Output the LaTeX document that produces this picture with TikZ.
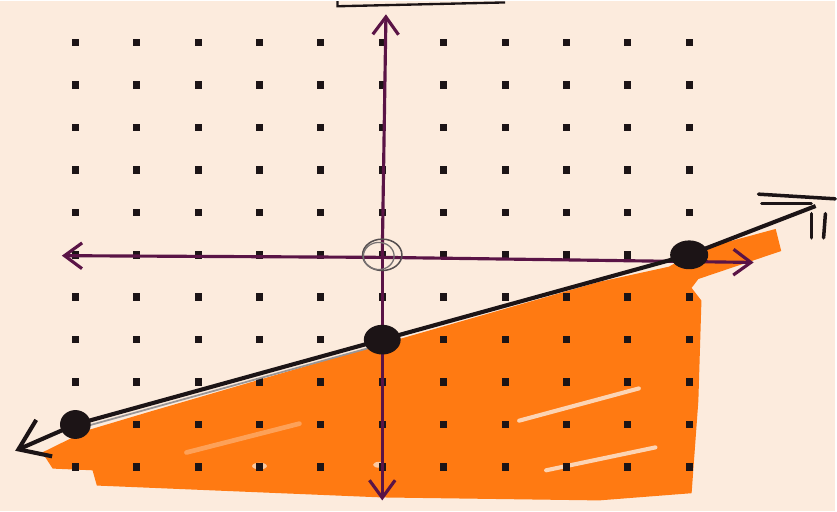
\documentclass[tikz,border=0pt]{standalone}
\usetikzlibrary{arrows.meta}
\definecolor{paper}{HTML}{FCEBDD}
\definecolor{marker}{HTML}{FF7A12}
\definecolor{axisink}{HTML}{5A1446}
\definecolor{ink}{HTML}{1C1416}
\begin{document}
\begin{tikzpicture}[x=1.845cm, y=1.275cm, >={Straight Barb[length=15pt,width=22pt]}]
  % Paper
  \fill[paper] (-6.228,-6.047) rectangle (7.382,5.976);

  % Shaded region (marker)
  \fill[marker] (-5.54,-4.66) -- (-4.81,-4.14) -- (-3.84,-3.72) -- (0,-2.1)
    -- (3.53,-0.64) -- (4.67,-0.28) -- (5.15,0.12) -- (6.41,0.61) -- (6.50,0.09)
    -- (5.15,-0.57) -- (5.04,-0.78) -- (5.20,-1.08) -- (5.15,-3.44) -- (5.04,-5.62)
    -- (3.53,-5.79) -- (0,-5.72) -- (-4.65,-5.44) -- (-4.72,-5.08) -- (-5.37,-5.04) -- cycle;
  % gaps in the marker
  \draw[paper, opacity=0.8, line width=3.5pt, line cap=round] (2.67,-5.08) -- (4.45,-4.54);
  \draw[paper, opacity=0.8, line width=3.5pt, line cap=round] (2.23,-3.91) -- (4.18,-3.15);
  \draw[paper, opacity=0.35, line width=4pt, line cap=round] (-3.19,-4.66) -- (-1.35,-3.98);
  \fill[paper, opacity=0.7] (-2.0,-4.98) ellipse (0.12 and 0.08);
  \fill[paper, opacity=0.7] (-0.05,-4.95) ellipse (0.1 and 0.07);

  % Dot grid
  \foreach \i in {-5,...,5}
    \foreach \j in {-5,...,5}
      \fill[ink] (\i,\j) +(-3pt,-3.2pt) rectangle +(3pt,3.2pt);

  % Axes
  \coordinate (xl) at (-5.22,-0.02);
  \coordinate (xr) at (6.05,-0.18);
  \coordinate (yt) at (0.06,5.67);
  \coordinate (yb) at (0,-5.79);
  \draw[axisink, line width=2.7pt, ->] (0,-0.06) -- (xl);
  \draw[axisink, line width=2.7pt, ->] (0,-0.06) -- (xr);
  \draw[axisink, line width=2.7pt, ->] (0,0) -- (yt);
  \draw[axisink, line width=2.7pt, ->] (0,0) -- (yb);

  % Origin
  \coordinate (O) at (0,0);
  \draw[ink!75, line width=1.3pt] (O) ellipse (0.32 and 0.37);
  \draw[ink!60, line width=1.1pt] ([xshift=-3pt,yshift=-1pt]O) ellipse (0.25 and 0.32);

  % Box edge at the top
  \draw[ink, line width=2pt] (-0.73,5.98) -- (-0.73,5.86) -- (2.0,5.95);

  % Line through the three points
  \coordinate (A) at (-5,-4);
  \coordinate (B) at (0,-2);
  \coordinate (C) at (5,0);
  \coordinate (Lend) at (-5.98,-4.62);
  \coordinate (Rend) at (7.06,1.15);
  \draw[ink!45, line width=1.5pt] ([yshift=-4pt]A) -- ([yshift=-4pt]B);
  \draw[ink, line width=3.5pt, line join=round,
        <-, >={Straight Barb[length=24pt,width=34pt]}] (Lend) -- (A) -- (B) -- (C) -- (Rend);
  \draw[ink, line width=3pt, line cap=round] (6.13,1.43) -- (7.38,1.32);
  \draw[ink, line width=2.5pt, line cap=round] (6.18,1.22) -- (6.99,1.22);
  \draw[ink, line width=3pt, line cap=round] (6.99,0.97) -- (6.99,0.40);
  \draw[ink, line width=3pt, line cap=round] (7.22,0.97) -- (7.19,0.40);

  \fill[ink] (A) ellipse (0.25 and 0.34);
  \fill[ink] (B) ellipse (0.30 and 0.35);
  \fill[ink] (C) ellipse (0.31 and 0.34);
\end{tikzpicture}
\end{document}
